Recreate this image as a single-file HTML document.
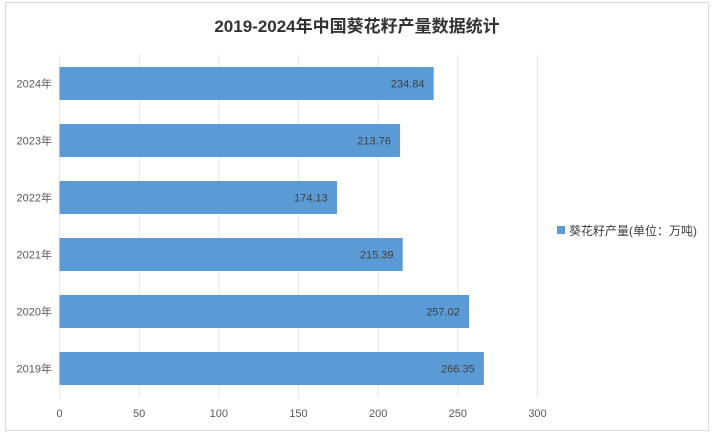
<!DOCTYPE html>
<html><head><meta charset="utf-8"><style>
body{margin:0;background:#fff;}
svg text{font-family:"Liberation Sans","Noto Sans CJK SC",sans-serif;}
</style></head><body>
<svg width="714" height="436" viewBox="0 0 714 436">
<rect x="5.5" y="2.5" width="703" height="428" fill="#fff" stroke="#d9d9d9"/>
<text x="357" y="32" text-anchor="middle" font-size="17" font-weight="bold" fill="#333">2019-2024年中国葵花籽产量数据统计</text>
<g id="grid"></g><g id="bars"></g><g id="labels"></g>
<g>
<rect x="557" y="226" width="8" height="8" fill="#5b9bd5"/>
<text x="569" y="235" font-size="12" fill="#404040">葵花籽产量(单位：万吨)</text>
</g>
</svg>
<script>
const categories=["2024年","2023年","2022年","2021年","2020年","2019年"];
const values=[234.84,213.76,174.13,215.39,257.02,266.35];
const ticks=[0,50,100,150,200,250,300];
const NS="http://www.w3.org/2000/svg";
const x0=59.5,x1=537.5,plotTop=55,plotBottom=397;
const xs=v=>x0+(v/300)*(x1-x0);
const band=(plotBottom-plotTop)/categories.length;
const ys=i=>plotTop+band*i;
function mk(t,a,p){const e=document.createElementNS(NS,t);for(const k in a)e.setAttribute(k,a[k]);document.getElementById(p).appendChild(e);return e;}
ticks.forEach(t=>{
 const l=mk('line',{x1:xs(t),x2:xs(t),y1:plotTop,y2:plotBottom,stroke:'#e6e6e6'},'grid');
 
 
 const tx=mk('text',{x:xs(t),y:417,'text-anchor':'middle','font-size':11,fill:'#595959'},'labels');
 tx.textContent=t;
 
 
});
categories.forEach((c,i)=>{
 const bh=33,y=ys(i)+(band-bh)/2;
 const r=mk('rect',{x:xs(0),y:y,width:xs(values[i])-xs(0),height:bh,fill:'#5b9bd5'},'bars');
 
 
 const v=mk('text',{x:xs(values[i])-26,y:y+bh/2+4,'text-anchor':'middle','font-size':11,fill:'#404040'},'labels');
 v.textContent=values[i].toFixed(2);
 
 
 const yl=mk('text',{x:52,y:y+bh/2+4,'text-anchor':'end','font-size':11,fill:'#595959'},'labels');
 yl.textContent=c;
 
 
});
</script>
</body></html>
